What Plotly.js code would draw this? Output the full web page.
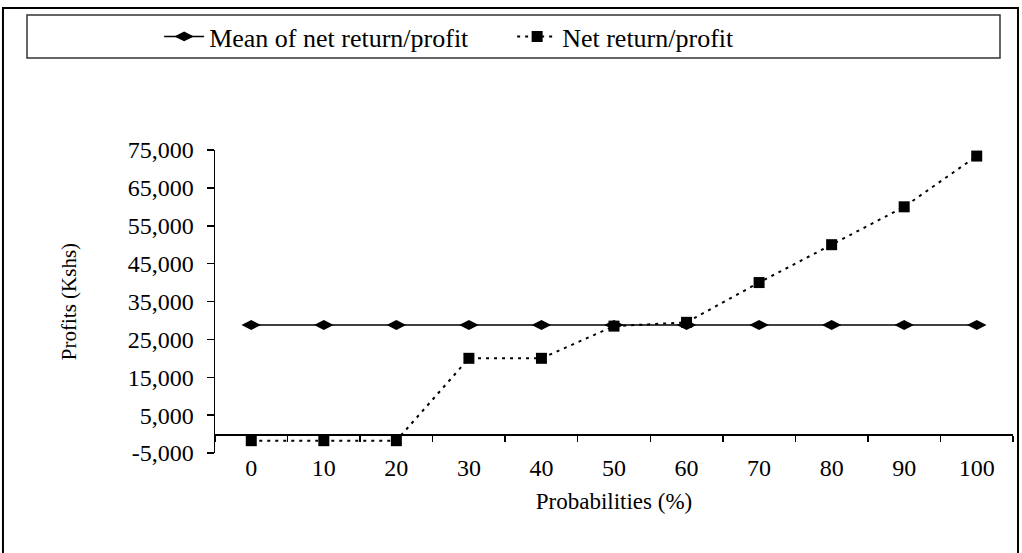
<!DOCTYPE html>
<html>
<head>
<meta charset="utf-8">
<script src="https://cdn.plot.ly/plotly-3.0.1.min.js"></script>
<style>html,body{margin:0;padding:0;background:#fff;}#chart{width:1022px;height:553px;}</style>
</head>
<body>
<div id="chart"></div>
<script>
const probabilities = ["0","10","20","30","40","50","60","70","80","90","100"];
const meanProfit = [28800,28800,28800,28800,28800,28800,28800,28800,28800,28800,28800];
const netProfit = [-1750,-1750,-1750,20000,20000,28500,29500,40000,50000,60000,73400];
const yTickVals = [-5000,5000,15000,25000,35000,45000,55000,65000,75000];
const yTickText = ["-5,000","5,000","15,000","25,000","35,000","45,000","55,000","65,000","75,000"];

const FONT = "Liberation Serif, Times New Roman, serif";

const traces = [
  {
    x: probabilities, y: meanProfit, type: "scatter", mode: "lines+markers",
    name: "Mean of net return/profit",
    line: {color: "#000", width: 1.5},
    marker: {symbol: "diamond-wide", size: 14, color: "#000"}
  },
  {
    x: probabilities, y: netProfit, type: "scatter", mode: "lines+markers",
    name: "Net return/profit",
    line: {color: "#000", width: 2, dash: "3px,5px"},
    marker: {symbol: "square", size: 11, color: "#000"}
  }
];

const layout = {
  width: 1022, height: 553,
  margin: {l: 215, r: 9, t: 150, b: 100},
  paper_bgcolor: "#fff", plot_bgcolor: "#fff",
  font: {family: FONT, color: "#000", size: 24},
  showlegend: true,
  legend: {
    orientation: "h", x: -0.07, xanchor: "left", y: 1.3746, yanchor: "middle",
    font: {family: FONT, size: 26, color: "#000"},
    bgcolor: "rgba(0,0,0,0)", borderwidth: 0,
    entrywidth: 298, entrywidthmode: "pixels", itemwidth: 40
  },
  xaxis: {
    type: "category", range: [-0.5, 10.5],
    anchor: "free", position: 0.0625,
    showline: true, linecolor: "#000", linewidth: 1.5,
    ticks: "outside", ticklen: 6, tickcolor: "#000", tickwidth: 1.5,
    tickson: "boundaries", ticklabelstandoff: 12,
    showgrid: false, zeroline: false,
    tickfont: {family: FONT, size: 24, color: "#000"},
    title: {text: "Probabilities (%)", font: {family: FONT, size: 23, color: "#000"}, standoff: 12}
  },
  yaxis: {
    range: [-5000, 75000],
    tickvals: yTickVals, ticktext: yTickText,
    showline: true, linecolor: "#000", linewidth: 1.5,
    ticks: "outside", ticklen: 7, tickcolor: "#000", tickwidth: 1.5,
    ticklabelstandoff: 8,
    showgrid: false, zeroline: false,
    tickfont: {family: FONT, size: 24, color: "#000"},
    title: {text: "Profits (Kshs)", font: {family: FONT, size: 21, color: "#000"}, standoff: 45}
  },
  shapes: [
    {type: "rect", xref: "paper", yref: "paper", x0: -0.2657, x1: 1.00627, y0: -0.36, y1: 1.4686,
     line: {color: "#000", width: 2}, fillcolor: "rgba(0,0,0,0)", layer: "below"},
    {type: "rect", xref: "paper", yref: "paper", x0: -0.2356, x1: 0.9837, y0: 1.3036, y1: 1.4455,
     line: {color: "#333", width: 1.5}, fillcolor: "rgba(0,0,0,0)", layer: "below"}
  ]
};

Plotly.newPlot("chart", traces, layout, {displayModeBar: false, staticPlot: true});
</script>
</body>
</html>
